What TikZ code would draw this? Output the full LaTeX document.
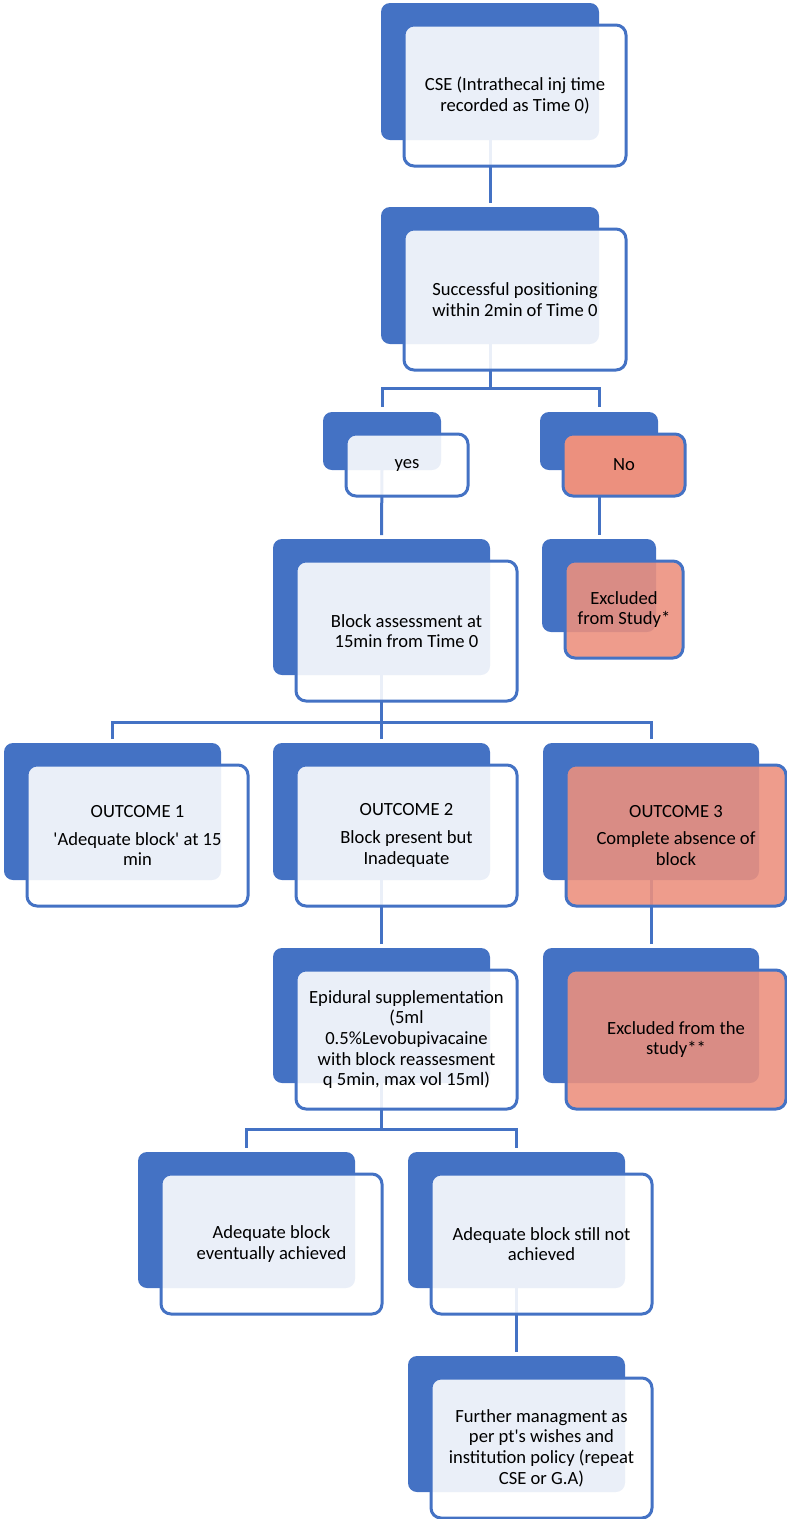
\documentclass[tikz,border=0pt]{standalone}
\usepackage{fontspec}
\setmainfont{Carlito}
\usetikzlibrary{backgrounds}
\definecolor{myblue}{HTML}{4472C4}
\definecolor{salmon}{RGB}{236,144,126}
\tikzset{
  backbox/.style={fill=myblue, rounded corners=9pt, inner sep=0pt, outer sep=0pt},
  frontbox/.style={draw=myblue, line width=3pt, fill=white, fill opacity=0.89,
    text opacity=1, rounded corners=10pt, inner sep=0pt, outer sep=0pt,
    align=center, font=\fontsize{18.6}{20.7}\selectfont},
  redbox/.style={frontbox, fill=salmon},
  solidred/.style={redbox, fill opacity=1},
  link/.style={draw=myblue, line width=3pt}
}
% #1 name, #2 left, #3 top, #4 width, #5 height, #6 front style, #7 text
\newcommand\stepbox[7]{%
  \node[backbox, minimum width=#4pt, minimum height=#5pt] (#1B) at ({#2+#4/2},{#3+#5/2}) {};
  \node[#6, minimum width=#4pt+4pt, minimum height=#5pt+4pt] (#1) at ({#2+25+#4/2},{#3+24+#5/2}) {#7};
}
\begin{document}
\begin{tikzpicture}[x=1pt,y=-1pt]
\useasboundingbox (0,0) rectangle (787,1519);

\stepbox{cse}{381}{3}{218}{137}{frontbox}{CSE (Intrathecal inj time\\recorded as Time 0)}
\stepbox{pos}{381}{207}{218}{137}{frontbox}{Successful positioning\\within 2min of Time 0}
\stepbox{yes}{323}{412}{118}{58}{frontbox}{yes}
\stepbox{no}{540}{412}{118}{58}{solidred}{No}
\stepbox{exa}{542}{539}{114}{93}{redbox}{Excluded\\from Study*}
\stepbox{blk}{273}{539}{217}{136}{frontbox}{Block assessment at\\15min from Time 0}
\stepbox{oa}{4}{743}{217}{137}{frontbox}{OUTCOME 1\\[7pt]\textquotesingle Adequate block\textquotesingle{} at 15\\min}
\stepbox{ob}{273}{743}{217}{137}{frontbox}{OUTCOME 2\\[7pt]Block present but\\Inadequate}
\stepbox{oc}{543}{743}{216}{137}{redbox}{OUTCOME 3\\[7pt]Complete absence of\\block}
\stepbox{epi}{273}{948}{217}{135}{frontbox}{Epidural supplementation\\(5ml\\0.5\%Levobupivacaine\\with block reassesment\\q 5min, max vol 15ml)}
\stepbox{exb}{543}{948}{216}{135}{redbox}{Excluded from the\\study**}
\stepbox{adq}{138}{1152}{217}{136}{frontbox}{Adequate block\\eventually achieved}
\stepbox{nad}{408}{1152}{217}{136}{frontbox}{Adequate block still not\\achieved}
\stepbox{fur}{408}{1356}{217}{136}{frontbox}{Further managment as\\per pt\textquotesingle s wishes and\\institution policy (repeat\\CSE or G.A)}

\begin{pgfonlayer}{background}
  \coordinate (j1) at (490,388);
  \coordinate (j2) at (381.5,722);
  \coordinate (j3) at (381.5,1129);
  \draw[link] (cseB.south) -- ([yshift=4pt]posB.north);
  \draw[link] (posB.south) -- (j1) -| ([yshift=5pt]yesB.north);
  \draw[link] (j1) -| ([yshift=5pt]noB.north);
  \draw[link] (yesB.south) -- ([yshift=4pt]blkB.north);
  \draw[link] (noB.south) -- ([yshift=4pt]exaB.north);
  \draw[link] (blkB.south) -- (j2) -| ([yshift=4pt]oaB.north);
  \draw[link] (j2) -- ([yshift=4pt]obB.north);
  \draw[link] (j2) -| ([yshift=4pt]ocB.north);
  \draw[link] (obB.south) -- ([yshift=4pt]epiB.north);
  \draw[link] (ocB.south) -- ([yshift=4pt]exbB.north);
  \draw[link] (epiB.south) -- (j3) -| ([yshift=4pt]adqB.north);
  \draw[link] (j3) -| ([yshift=4pt]nadB.north);
  \draw[link] (nadB.south) -- ([yshift=4pt]furB.north);
\end{pgfonlayer}
\end{tikzpicture}
\end{document}
